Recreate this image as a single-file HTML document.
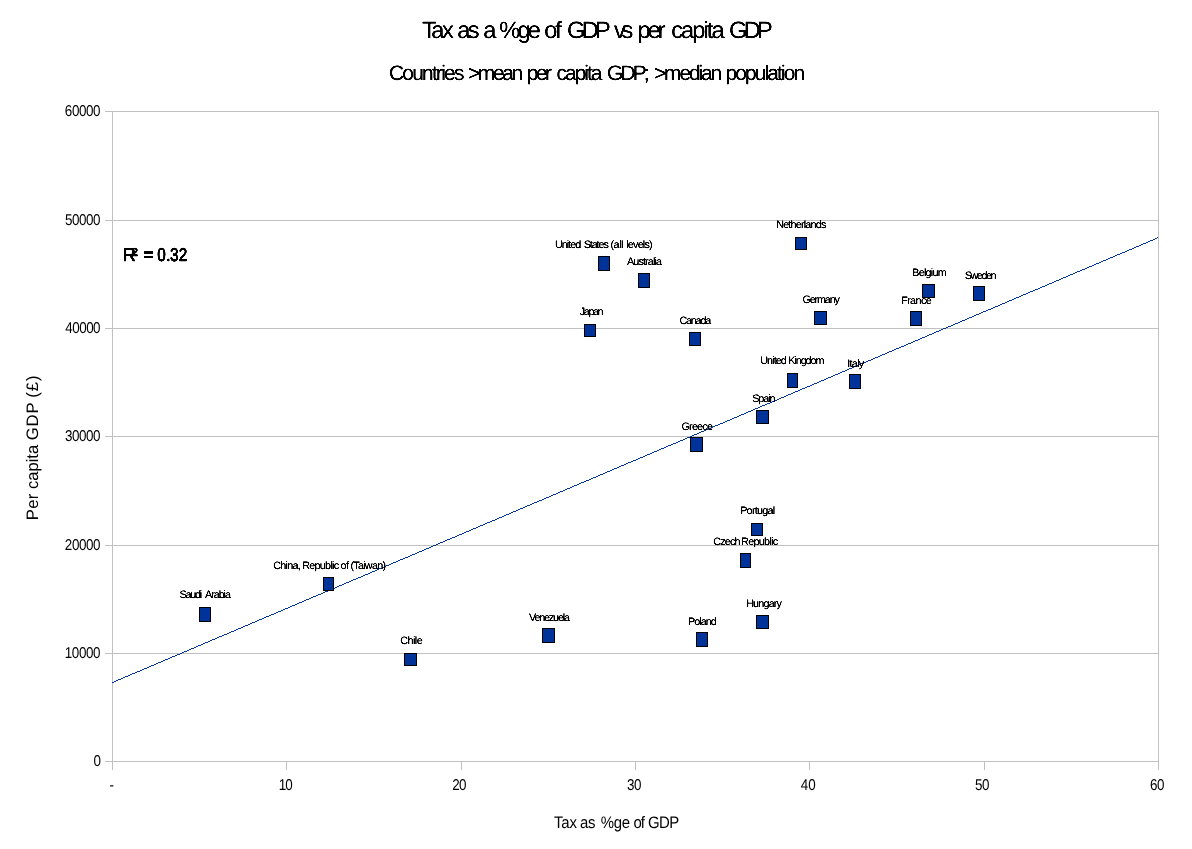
<!DOCTYPE html>
<html lang="en"><head><meta charset="utf-8"><title>Tax as a %ge of GDP vs per capita GDP</title>
<style>html,body{margin:0;padding:0;background:#fff;}body{width:1192px;height:849px;overflow:hidden;}svg{display:block;}text{font-family:"Liberation Sans",Arial,Helvetica,sans-serif;text-rendering:geometricPrecision;fill:#000;stroke:#000;stroke-linejoin:round;white-space:pre;}</style></head><body>
<svg width="1192" height="849" viewBox="0 0 1192 849">
<defs><filter id="bw" x="0" y="0" width="1192" height="849" filterUnits="userSpaceOnUse" color-interpolation-filters="sRGB"><feComponentTransfer><feFuncA type="linear" slope="2.0" intercept="-0.25"/></feComponentTransfer></filter></defs>
<rect x="0" y="0" width="1192" height="849" fill="#ffffff"/>
<g shape-rendering="crispEdges" fill="#c0c0c0">
<rect x="105" y="111" width="1054" height="1"/>
<rect x="105" y="220" width="1054" height="1"/>
<rect x="105" y="328" width="1054" height="1"/>
<rect x="105" y="436" width="1054" height="1"/>
<rect x="105" y="545" width="1054" height="1"/>
<rect x="105" y="653" width="1054" height="1"/>
<rect x="105" y="761" width="1054" height="1"/>
<rect x="112" y="111" width="1" height="659"/>
<rect x="1158" y="111" width="1" height="659"/>
<rect x="286" y="761" width="1" height="9"/>
<rect x="461" y="761" width="1" height="9"/>
<rect x="635" y="761" width="1" height="9"/>
<rect x="809" y="761" width="1" height="9"/>
<rect x="984" y="761" width="1" height="9"/>
</g>
<path d="M112 682.5h2m0-1h2m0-1h2m0-1h3m0-1h2m0-1h2m0-1h3m0-1h2m0-1h2m0-1h3m0-1h2m0-1h3m0-1h2m0-1h2m0-1h3m0-1h2m0-1h2m0-1h3m0-1h2m0-1h2m0-1h3m0-1h2m0-1h2m0-1h3m0-1h2m0-1h2m0-1h3m0-1h2m0-1h3m0-1h2m0-1h2m0-1h3m0-1h2m0-1h2m0-1h3m0-1h2m0-1h2m0-1h3m0-1h2m0-1h2m0-1h3m0-1h2m0-1h2m0-1h3m0-1h2m0-1h2m0-1h3m0-1h2m0-1h3m0-1h2m0-1h2m0-1h3m0-1h2m0-1h2m0-1h3m0-1h2m0-1h2m0-1h3m0-1h2m0-1h2m0-1h3m0-1h2m0-1h2m0-1h3m0-1h2m0-1h2m0-1h3m0-1h2m0-1h3m0-1h2m0-1h2m0-1h3m0-1h2m0-1h2m0-1h3m0-1h2m0-1h2m0-1h3m0-1h2m0-1h2m0-1h3m0-1h2m0-1h2m0-1h3m0-1h2m0-1h2m0-1h3m0-1h2m0-1h3m0-1h2m0-1h2m0-1h3m0-1h2m0-1h2m0-1h3m0-1h2m0-1h2m0-1h3m0-1h2m0-1h2m0-1h3m0-1h2m0-1h2m0-1h3m0-1h2m0-1h3m0-1h2m0-1h2m0-1h3m0-1h2m0-1h2m0-1h3m0-1h2m0-1h2m0-1h3m0-1h2m0-1h2m0-1h3m0-1h2m0-1h2m0-1h3m0-1h2m0-1h2m0-1h3m0-1h2m0-1h3m0-1h2m0-1h2m0-1h3m0-1h2m0-1h2m0-1h3m0-1h2m0-1h2m0-1h3m0-1h2m0-1h2m0-1h3m0-1h2m0-1h2m0-1h3m0-1h2m0-1h2m0-1h3m0-1h2m0-1h3m0-1h2m0-1h2m0-1h3m0-1h2m0-1h2m0-1h3m0-1h2m0-1h2m0-1h3m0-1h2m0-1h2m0-1h3m0-1h2m0-1h2m0-1h3m0-1h2m0-1h3m0-1h2m0-1h2m0-1h3m0-1h2m0-1h2m0-1h3m0-1h2m0-1h2m0-1h3m0-1h2m0-1h2m0-1h3m0-1h2m0-1h2m0-1h3m0-1h2m0-1h2m0-1h3m0-1h2m0-1h3m0-1h2m0-1h2m0-1h3m0-1h2m0-1h2m0-1h3m0-1h2m0-1h2m0-1h3m0-1h2m0-1h2m0-1h3m0-1h2m0-1h2m0-1h3m0-1h2m0-1h2m0-1h3m0-1h2m0-1h3m0-1h2m0-1h2m0-1h3m0-1h2m0-1h2m0-1h3m0-1h2m0-1h2m0-1h3m0-1h2m0-1h2m0-1h3m0-1h2m0-1h2m0-1h3m0-1h2m0-1h2m0-1h3m0-1h2m0-1h3m0-1h2m0-1h2m0-1h3m0-1h2m0-1h2m0-1h3m0-1h2m0-1h2m0-1h3m0-1h2m0-1h2m0-1h3m0-1h2m0-1h2m0-1h3m0-1h2m0-1h3m0-1h2m0-1h2m0-1h3m0-1h2m0-1h2m0-1h3m0-1h2m0-1h2m0-1h3m0-1h2m0-1h2m0-1h3m0-1h2m0-1h2m0-1h3m0-1h2m0-1h2m0-1h3m0-1h2m0-1h3m0-1h2m0-1h2m0-1h3m0-1h2m0-1h2m0-1h3m0-1h2m0-1h2m0-1h3m0-1h2m0-1h2m0-1h3m0-1h2m0-1h2m0-1h3m0-1h2m0-1h2m0-1h3m0-1h2m0-1h3m0-1h2m0-1h2m0-1h3m0-1h2m0-1h2m0-1h3m0-1h2m0-1h2m0-1h3m0-1h2m0-1h2m0-1h3m0-1h2m0-1h2m0-1h3m0-1h2m0-1h3m0-1h2m0-1h2m0-1h3m0-1h2m0-1h2m0-1h3m0-1h2m0-1h2m0-1h3m0-1h2m0-1h2m0-1h3m0-1h2m0-1h2m0-1h3m0-1h2m0-1h2m0-1h3m0-1h2m0-1h3m0-1h2m0-1h2m0-1h3m0-1h2m0-1h2m0-1h3m0-1h2m0-1h2m0-1h3m0-1h2m0-1h2m0-1h3m0-1h2m0-1h2m0-1h3m0-1h2m0-1h2m0-1h3m0-1h2m0-1h3m0-1h2m0-1h2m0-1h3m0-1h2m0-1h2m0-1h3m0-1h2m0-1h2m0-1h3m0-1h2m0-1h2m0-1h3m0-1h2m0-1h2m0-1h3m0-1h2m0-1h2m0-1h3m0-1h2m0-1h3m0-1h2m0-1h2m0-1h3m0-1h2m0-1h2m0-1h3m0-1h2m0-1h2m0-1h3m0-1h2m0-1h2m0-1h3m0-1h2m0-1h2m0-1h3m0-1h2m0-1h3m0-1h2m0-1h2m0-1h3m0-1h2m0-1h2m0-1h3m0-1h2m0-1h2m0-1h3m0-1h2m0-1h2m0-1h3m0-1h2m0-1h2m0-1h3m0-1h2m0-1h2m0-1h3m0-1h2m0-1h3m0-1h2m0-1h2m0-1h3m0-1h2m0-1h2m0-1h3m0-1h2m0-1h2m0-1h3m0-1h2m0-1h2m0-1h3m0-1h2m0-1h2m0-1h3m0-1h2m0-1h2m0-1h3m0-1h2m0-1h3m0-1h2m0-1h2m0-1h3m0-1h2m0-1h2m0-1h3m0-1h2m0-1h2m0-1h3m0-1h2m0-1h2m0-1h3m0-1h2m0-1h2m0-1h3m0-1h2m0-1h3m0-1h2m0-1h2m0-1h3m0-1h2m0-1h2m0-1h3m0-1h2m0-1h2m0-1h3m0-1h2m0-1h2m0-1h3m0-1h2m0-1h2m0-1h1" fill="none" stroke="#003399" stroke-width="1" shape-rendering="crispEdges"/>
<g shape-rendering="crispEdges" fill="#003399" stroke="#000000" stroke-width="1">
<rect x="598.5" y="256.5" width="11" height="14"/>
<rect x="638.5" y="273.5" width="11" height="14"/>
<rect x="584.5" y="324.5" width="11" height="12"/>
<rect x="689.5" y="332.5" width="11" height="13"/>
<rect x="795.5" y="237.5" width="11" height="12"/>
<rect x="814.5" y="311.5" width="12" height="13"/>
<rect x="922.5" y="284.5" width="12" height="13"/>
<rect x="910.5" y="311.5" width="11" height="14"/>
<rect x="973.5" y="286.5" width="11" height="14"/>
<rect x="787.5" y="373.5" width="10" height="14"/>
<rect x="849.5" y="374.5" width="11" height="14"/>
<rect x="756.5" y="410.5" width="12" height="13"/>
<rect x="690.5" y="437.5" width="12" height="14"/>
<rect x="751.5" y="523.5" width="11" height="12"/>
<rect x="740.5" y="553.5" width="10" height="14"/>
<rect x="756.5" y="615.5" width="12" height="13"/>
<rect x="696.5" y="632.5" width="11" height="14"/>
<rect x="199.5" y="607.5" width="11" height="14"/>
<rect x="323.5" y="577.5" width="10" height="13"/>
<rect x="404.5" y="653.5" width="12" height="12"/>
<rect x="542.5" y="628.5" width="12" height="14"/>
</g>
<g filter="url(#bw)">
<text y="37.75" font-size="23.6" stroke-width="0"><tspan x="421.88" letter-spacing="-2.428">Tax </tspan><tspan x="457.36" letter-spacing="-2.800">as </tspan><tspan x="483.26" letter-spacing="0.000">a </tspan><tspan x="499.26" letter-spacing="-2.770">%ge </tspan><tspan x="544.26" letter-spacing="-2.125">of </tspan><tspan x="566.99" letter-spacing="-3.697">GDP </tspan><tspan x="614.00" letter-spacing="-4.363">vs </tspan><tspan x="637.52" letter-spacing="-2.960">per </tspan><tspan x="671.16" letter-spacing="-1.908">capita </tspan><tspan x="728.89" letter-spacing="-3.572">GDP</tspan></text>
<text y="80.00" font-size="20.9" stroke-width="0"><tspan x="389.02" letter-spacing="-1.758">Countries </tspan><tspan x="468.02" letter-spacing="-2.358">&gt;mean </tspan><tspan x="526.79" letter-spacing="-2.499">per </tspan><tspan x="556.60" letter-spacing="-2.000">capita </tspan><tspan x="607.12" letter-spacing="-2.852">GDP; </tspan><tspan x="654.02" letter-spacing="-2.100">&gt;median </tspan><tspan x="725.59" letter-spacing="-1.875">population</tspan></text>
<text transform="scale(0.97,1.0)" y="260.90" font-size="18.67" stroke-width="0.5"><tspan x="126.58" letter-spacing="-4.181">R² </tspan><tspan x="147.58" letter-spacing="0.046">= </tspan></text>
<text transform="scale(0.82,1.0)" y="260.90" font-size="18.67" stroke-width="0.5"><tspan x="191.79" letter-spacing="0.000">0</tspan><tspan x="202.81" letter-spacing="0.000">.</tspan><tspan x="207.47" letter-spacing="0.000">3</tspan><tspan x="217.91" letter-spacing="0.000">2</tspan></text>
<text x="627.00" y="264.80" font-size="10.8" stroke-width="0.04" letter-spacing="-0.886">Australia</text>
<text x="579.83" y="314.50" font-size="10.8" stroke-width="0.04" letter-spacing="-1.413">Japan</text>
<text x="679.49" y="324.00" font-size="10.8" stroke-width="0.04" letter-spacing="-1.229">Canada</text>
<text x="776.16" y="228.00" font-size="10.8" stroke-width="0.04" letter-spacing="-0.805">Netherlands</text>
<text x="912.16" y="275.50" font-size="10.8" stroke-width="0.04" letter-spacing="-0.728">Belgium</text>
<text x="964.66" y="279.00" font-size="10.8" stroke-width="0.04" letter-spacing="-1.417">Sweden</text>
<text x="802.49" y="302.50" font-size="10.8" stroke-width="0.04" letter-spacing="-1.151">Germany</text>
<text x="901.16" y="303.75" font-size="10.8" stroke-width="0.04" letter-spacing="-0.616">France</text>
<text x="847.16" y="366.75" font-size="10.8" stroke-width="0.04" letter-spacing="-0.678">Italy</text>
<text x="752.16" y="402.00" font-size="10.8" stroke-width="0.04" letter-spacing="-1.045">Spain</text>
<text x="681.49" y="430.00" font-size="10.8" stroke-width="0.04" letter-spacing="-0.794">Greece</text>
<text x="740.16" y="513.75" font-size="10.8" stroke-width="0.04" letter-spacing="-0.739">Portugal</text>
<text x="746.16" y="607.00" font-size="10.8" stroke-width="0.04" letter-spacing="-0.830">Hungary</text>
<text x="687.91" y="625.00" font-size="10.8" stroke-width="0.04" letter-spacing="-0.936">Poland</text>
<text x="273.24" y="569.00" font-size="10.8" stroke-width="0.04" letter-spacing="-0.740">China, Republic of (Taiwan)</text>
<text x="400.24" y="644.00" font-size="10.8" stroke-width="0.04" letter-spacing="-0.542">Chile</text>
<text x="529.00" y="621.00" font-size="10.8" stroke-width="0.04" letter-spacing="-1.189">Venezuela</text>
<text y="597.90" font-size="10.8" stroke-width="0.04"><tspan x="179.41" letter-spacing="-1.206">Saudi </tspan><tspan x="205.00" letter-spacing="-1.057">Arabia</tspan></text>
<text y="363.75" font-size="10.8" stroke-width="0.04"><tspan x="760.23" letter-spacing="-0.917">United </tspan><tspan x="788.16" letter-spacing="-1.037">Kingdom</tspan></text>
<text y="544.75" font-size="10.8" stroke-width="0.04"><tspan x="713.24" letter-spacing="-0.812">Czech </tspan><tspan x="741.06" letter-spacing="-0.687">Republic</tspan></text>
<text y="247.90" font-size="10.8" stroke-width="0.04"><tspan x="554.93" letter-spacing="-0.987">United </tspan><tspan x="583.66" letter-spacing="-1.089">States </tspan><tspan x="610.49" letter-spacing="-0.478">(all </tspan><tspan x="626.23" letter-spacing="-0.796">levels)</tspan></text>
</g><g>
<text transform="scale(0.9,1.0)" y="827.75" font-size="16.6" stroke-width="0"><tspan x="615.52" letter-spacing="-0.175">Tax </tspan><tspan x="644.59" letter-spacing="-0.495">as </tspan><tspan x="667.54" letter-spacing="-0.378">%ge </tspan><tspan x="703.93" letter-spacing="-1.160">of </tspan><tspan x="720.06" letter-spacing="-0.665">GDP</tspan></text>
<text transform="scale(0.86,1.0)" x="75.43" y="116.00" font-size="15.6" stroke-width="0" letter-spacing="-0.463">60000</text>
<text transform="scale(0.86,1.0)" x="75.68" y="225.00" font-size="15.6" stroke-width="0" letter-spacing="-0.524">50000</text>
<text transform="scale(0.86,1.0)" x="75.92" y="333.00" font-size="15.6" stroke-width="0" letter-spacing="-0.585">40000</text>
<text transform="scale(0.86,1.0)" x="75.68" y="441.00" font-size="15.6" stroke-width="0" letter-spacing="-0.524">30000</text>
<text transform="scale(0.86,1.0)" x="75.43" y="550.00" font-size="15.6" stroke-width="0" letter-spacing="-0.463">20000</text>
<text transform="scale(0.86,1.0)" x="75.19" y="658.00" font-size="15.6" stroke-width="0" letter-spacing="-0.402">10000</text>
<text transform="scale(0.86,1.0)" x="108.81" y="766.00" font-size="15.6" stroke-width="0" letter-spacing="0.000">0</text>
<text transform="scale(0.86,1.0)" x="127.42" y="790.00" font-size="15.6" stroke-width="0" letter-spacing="0.000">-</text>
<text transform="scale(0.86,1.0)" x="324.02" y="790.00" font-size="15.6" stroke-width="0" letter-spacing="-0.872">10</text>
<text transform="scale(0.86,1.0)" x="526.01" y="790.00" font-size="15.6" stroke-width="0" letter-spacing="-0.825">20</text>
<text transform="scale(0.86,1.0)" x="729.16" y="790.00" font-size="15.6" stroke-width="0" letter-spacing="-0.488">30</text>
<text transform="scale(0.86,1.0)" x="931.04" y="790.00" font-size="15.6" stroke-width="0" letter-spacing="0.141">40</text>
<text transform="scale(0.86,1.0)" x="1133.81" y="790.00" font-size="15.6" stroke-width="0" letter-spacing="-0.488">50</text>
<text transform="scale(0.86,1.0)" x="1337.35" y="790.00" font-size="15.6" stroke-width="0" letter-spacing="-0.535">60</text>
<text transform="translate(37.9,519) rotate(-90)" y="0.00" font-size="16.6" stroke-width="0"><tspan x="-1.30" letter-spacing="0.398">Per </tspan><tspan x="29.98" letter-spacing="-0.027">capita </tspan><tspan x="78.82" letter-spacing="0.902">GDP </tspan><tspan x="121.32" letter-spacing="1.000">(£)</tspan></text>
</g>
</svg></body></html>
